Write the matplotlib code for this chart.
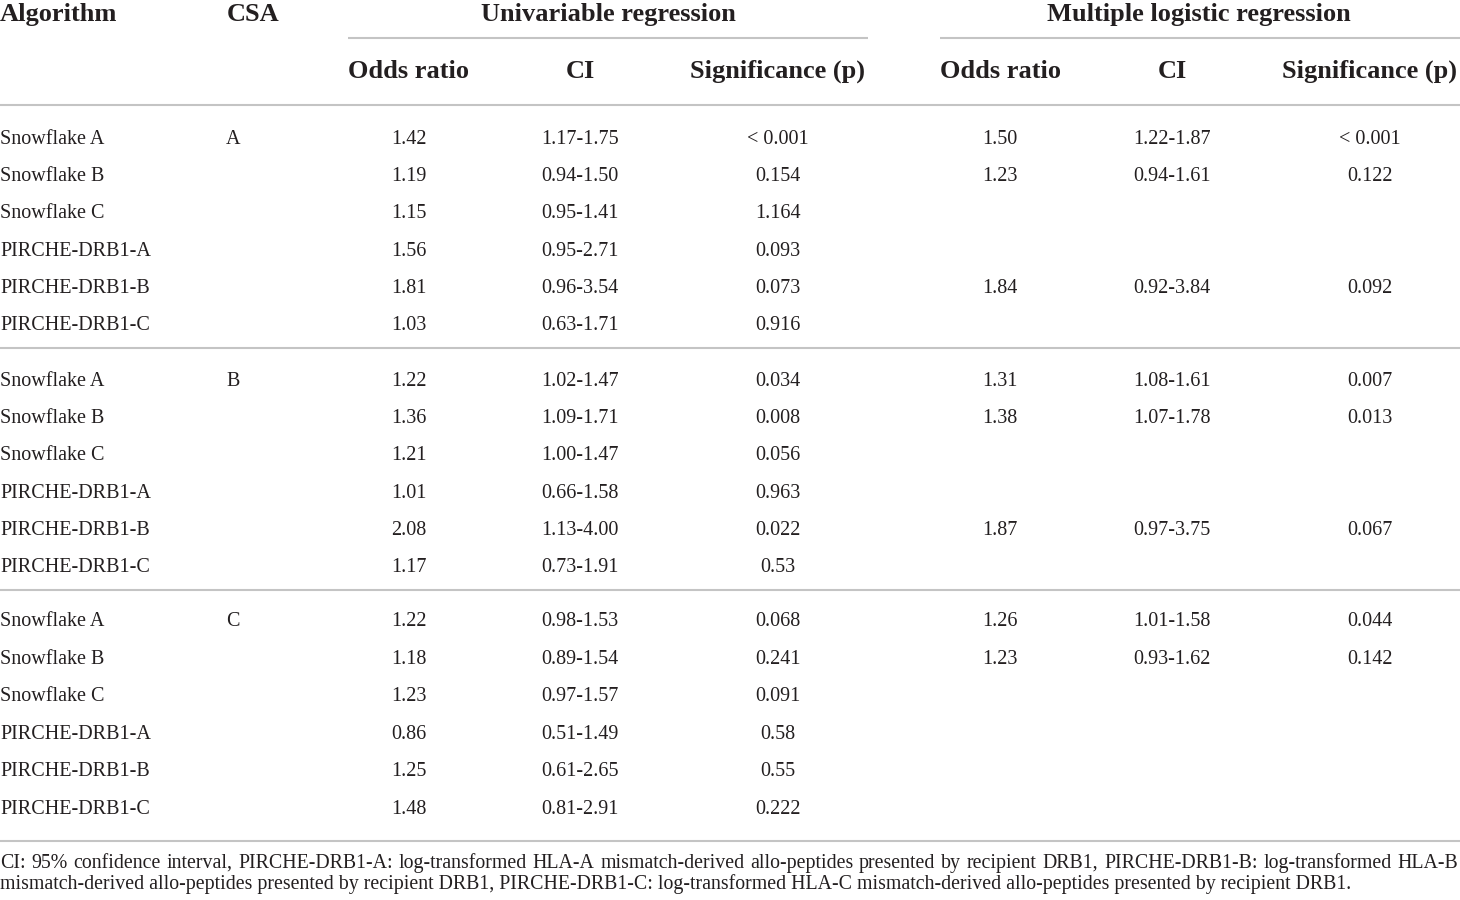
import matplotlib
matplotlib.use("Agg")
import matplotlib.pyplot as plt

algorithms = ["Snowflake A", "Snowflake B", "Snowflake C",
              "PIRCHE-DRB1-A", "PIRCHE-DRB1-B", "PIRCHE-DRB1-C"] * 3
csa = ["A", "", "", "", "", "", "B", "", "", "", "", "", "C", "", "", "", "", ""]
uni_or = ["1.42", "1.19", "1.15", "1.56", "1.81", "1.03",
          "1.22", "1.36", "1.21", "1.01", "2.08", "1.17",
          "1.22", "1.18", "1.23", "0.86", "1.25", "1.48"]
uni_ci = ["1.17-1.75", "0.94-1.50", "0.95-1.41", "0.95-2.71", "0.96-3.54", "0.63-1.71",
          "1.02-1.47", "1.09-1.71", "1.00-1.47", "0.66-1.58", "1.13-4.00", "0.73-1.91",
          "0.98-1.53", "0.89-1.54", "0.97-1.57", "0.51-1.49", "0.61-2.65", "0.81-2.91"]
uni_p = ["< 0.001", "0.154", "1.164", "0.093", "0.073", "0.916",
         "0.034", "0.008", "0.056", "0.963", "0.022", "0.53",
         "0.068", "0.241", "0.091", "0.58", "0.55", "0.222"]
mlr_or = ["1.50", "1.23", "", "", "1.84", "",
          "1.31", "1.38", "", "", "1.87", "",
          "1.26", "1.23", "", "", "", ""]
mlr_ci = ["1.22-1.87", "0.94-1.61", "", "", "0.92-3.84", "",
          "1.08-1.61", "1.07-1.78", "", "", "0.97-3.75", "",
          "1.01-1.58", "0.93-1.62", "", "", "", ""]
mlr_p = ["< 0.001", "0.122", "", "", "0.092", "",
         "0.007", "0.013", "", "", "0.067", "",
         "0.044", "0.142", "", "", "", ""]

header_top = ["Algorithm", "CSA", "Univariable regression", "Multiple logistic regression"]
sub_headers = ["Odds ratio", "CI", "Significance (p)"]
footnote_1 = ("CI: 95% confidence interval, PIRCHE-DRB1-A: log-transformed HLA-A mismatch-derived "
              "allo-peptides presented by recipient DRB1, PIRCHE-DRB1-B: log-transformed HLA-B")
footnote_2 = ("mismatch-derived allo-peptides presented by recipient DRB1, PIRCHE-DRB1-C: "
              "log-transformed HLA-C mismatch-derived allo-peptides presented by recipient DRB1.")

FONT = "Liberation Serif"
TXT = "#231f20"
LINE = "#c4c4c4"

fig = plt.figure(figsize=(14.6, 9.0), dpi=100)
ax = fig.add_axes([0, 0, 1, 1])
ax.set_xlim(0, 1460)
ax.set_ylim(900, 0)
ax.axis("off")

HS = 19
DS = 14.5
FS = 14.3

# top header
ax.text(0, 21, header_top[0], fontsize=HS, fontweight="bold", family=FONT, color=TXT, ha="left", va="baseline")
ax.text(227, 21, header_top[1], fontsize=HS, fontweight="bold", family=FONT, color=TXT, ha="left", va="baseline")
ax.text(608, 21, header_top[2], fontsize=HS, fontweight="bold", family=FONT, color=TXT, ha="center", va="baseline")
ax.text(1199, 21, header_top[3], fontsize=HS, fontweight="bold", family=FONT, color=TXT, ha="center", va="baseline")
ax.plot([348, 868], [38, 38], color=LINE, lw=1.5, solid_capstyle="butt")
ax.plot([940, 1460], [38, 38], color=LINE, lw=1.5, solid_capstyle="butt")

col_x = [409, 580, 778, 1000, 1172, 1370]
for i, x in enumerate(col_x):
    ax.text(x, 78, sub_headers[i % 3], fontsize=HS, fontweight="bold", family=FONT, color=TXT,
            ha="center", va="baseline")
ax.plot([0, 1460], [104.5, 104.5], color=LINE, lw=1.5, solid_capstyle="butt")

group_start = [143.5, 385.5, 626.5]
step = 37.4
cols = [uni_or, uni_ci, uni_p, mlr_or, mlr_ci, mlr_p]
for i in range(len(algorithms)):
    g, r = divmod(i, 6)
    y = group_start[g] + r * step
    ax.text(0, y, algorithms[i], fontsize=DS, family=FONT, color=TXT, ha="left", va="baseline")
    if csa[i]:
        ax.text(226, y, csa[i], fontsize=DS, family=FONT, color=TXT, ha="left", va="baseline")
    for x, col in zip(col_x, cols):
        if col[i]:
            ax.text(x, y, col[i], fontsize=DS, family=FONT, color=TXT, ha="center", va="baseline")

for y in [347.5, 589.5, 840.5]:
    ax.plot([0, 1460], [y, y], color=LINE, lw=1.5, solid_capstyle="butt")

# footnote: first line justified
fig.canvas.draw()
renderer = fig.canvas.get_renderer()
words = footnote_1.split(" ")
widths = []
for w in words:
    t = ax.text(0, 0, w, fontsize=FS, family=FONT)
    bb = t.get_window_extent(renderer)
    widths.append(bb.width)
    t.remove()
total = sum(widths)
gap = (1458 - total) / (len(words) - 1)
x = 0
for w, wd in zip(words, widths):
    ax.text(x, 868, w, fontsize=FS, family=FONT, color=TXT, ha="left", va="baseline")
    x += wd + gap
ax.text(0, 889, footnote_2, fontsize=FS, family=FONT, color=TXT, ha="left", va="baseline")

fig.savefig("out.png", dpi=100, facecolor="white")
